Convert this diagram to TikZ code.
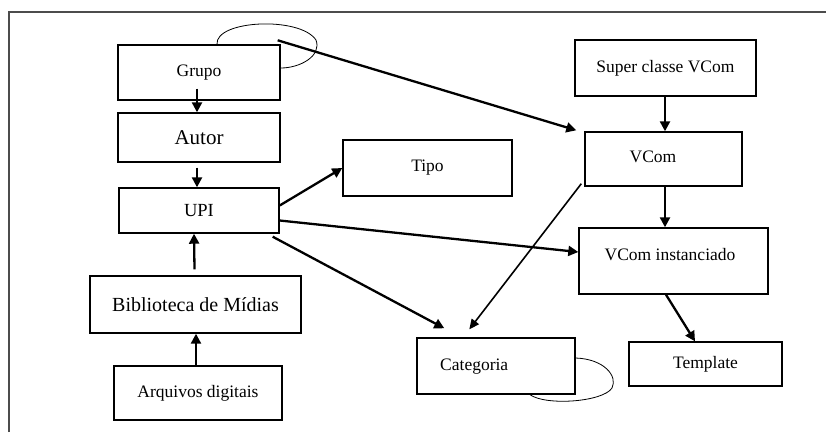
\documentclass[tikz,border=0pt]{standalone}
\usepackage{fontspec}
\setmainfont{Liberation Serif}
\usetikzlibrary{arrows.meta}
\begin{document}
\begin{tikzpicture}[x=1pt,y=-1pt,
  box/.style={draw=black,line width=1.4pt,inner sep=0pt,font=\fontsize{17.5}{20}\selectfont},
  txt/.style={inner sep=0pt,font=\fontsize{17.5}{20}\selectfont},
  flow/.style={line width=2.3pt,-{Triangle[length=10pt,width=10pt]}},
  thinflow/.style={line width=1.6pt,-{Triangle[length=10pt,width=9pt]}},
  loop/.style={line width=0.8pt}]
\useasboundingbox (0,0) rectangle (826,432);
% outer frame
\draw[line width=2pt,black!70] (8.5,432) -- (8.5,12) -- (826,12);

% left column
\node[box,minimum width=162pt,minimum height=55pt] (grupo) at (199,72.5) {Grupo};
\node[box,minimum width=162pt,minimum height=49pt,font=\fontsize{21}{24}\selectfont] (autor) at (199,137.5) {Autor};
\node[box,minimum width=160pt,minimum height=45pt,font=\fontsize{18.5}{21}\selectfont] (upi) at (199,210.5) {UPI};
\node[box,minimum width=211pt,minimum height=57pt,font=\fontsize{20}{23}\selectfont] (bib) at (195.5,304.5) {Biblioteca de Mídias};
\node[box,minimum width=168pt,minimum height=54pt] (arq) at (198,393) {Arquivos digitais};

% middle
\node[box,minimum width=169pt,minimum height=56pt] (tipo) at (427.5,168) {Tipo};
\node[box,minimum width=158pt,minimum height=56pt] (cat) at (496,366) {};
\node[txt,anchor=west] (catlbl) at (440,367) {Categoria};

% right column
\node[box,minimum width=181pt,minimum height=56pt] (super) at (665.5,68) {Super classe VCom};
\node[box,minimum width=157pt,minimum height=54pt] (vcom) at (663.5,159) {};
\node[txt] (vcomlbl) at (653,157) {VCom};
\node[box,minimum width=189pt,minimum height=66pt] (vinst) at (673.5,261) {};
\node[txt] (vinstlbl) at (670,255) {VCom instanciado};
\node[box,minimum width=153pt,minimum height=44pt] (templ) at (705.5,364) {Template};

% self loops
\draw[loop] (grupo.north) ++(18pt,0) .. controls (215,20) and (300,16) .. (316,40)
  .. controls (322,56) and (300,68) .. ([yshift=4.5pt]grupo.east);
\draw[loop] ([yshift=8pt]cat.east) .. controls (604,359) and (618,376) .. (612,388)
  .. controls (603,402) and (546,406) .. ([xshift=34pt]cat.south);

% connectors
\draw[flow] ([xshift=-2pt,yshift=12pt]grupo.south) -- ([xshift=-2pt]autor.north);
\draw[flow] ([xshift=-2pt,yshift=-5pt]autor.south) -- ([xshift=-2pt]upi.north);
\draw[flow] ([xshift=-1pt,yshift=6pt]bib.north) -- ([xshift=-5pt]upi.south);
\draw[flow] ([xshift=-2pt]arq.north) -- ([xshift=0.5pt]bib.south);
\draw[flow] ([xshift=-3pt,yshift=4pt]grupo.north east) -- ([xshift=-8pt,yshift=1pt]vcom.north west);
\draw[flow] ([yshift=5pt]upi.east) -- (tipo.west);
\draw[flow] ([yshift=-10pt]upi.east) -- ([yshift=9pt]vinst.west);
\draw[flow] ([xshift=-7pt,yshift=-3pt]upi.south east) -- ([xshift=28pt,yshift=9pt]cat.north west);
\draw[thinflow] ([xshift=-3pt,yshift=3pt]vcom.south west) -- ([xshift=53pt,yshift=8pt]cat.north west);
\draw[flow] ([xshift=-0.5pt]super.south) -- ([xshift=1.5pt]vcom.north);
\draw[flow] ([xshift=1.5pt]vcom.south) -- ([xshift=-8.5pt]vinst.north);
\draw[flow] ([xshift=-7.5pt]vinst.south) -- ([xshift=-10.5pt]templ.north);
\end{tikzpicture}
\end{document}
